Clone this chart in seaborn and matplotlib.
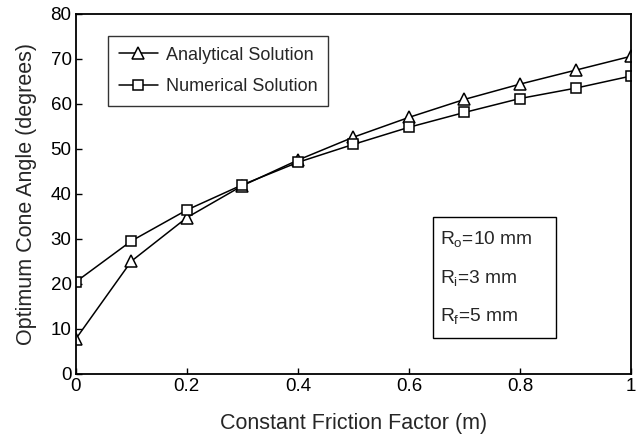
import pandas as pd
import matplotlib
matplotlib.use("Agg")
import matplotlib.pyplot as plt
from matplotlib.patches import Rectangle
import seaborn as sns

friction = [0.0, 0.1, 0.2, 0.3, 0.4, 0.5, 0.6, 0.7, 0.8, 0.9, 1.0]
analytical = [7.7, 25.0, 34.7, 41.8, 47.5, 52.6, 57.0, 61.0, 64.4, 67.5, 70.6]
numerical = [20.4, 29.5, 36.4, 42.0, 47.0, 51.0, 54.8, 58.1, 61.2, 63.5, 66.2]
xticks = [0, 0.2, 0.4, 0.6, 0.8, 1]
yticks = [0, 10, 20, 30, 40, 50, 60, 70, 80]
params = ["R$_\\mathrm{o}$=10 mm", "R$_\\mathrm{i}$=3 mm", "R$_\\mathrm{f}$=5 mm"]

sns.set_style("white")
plt.rcParams["font.family"] = ["Liberation Sans", "DejaVu Sans"]
plt.rcParams["mathtext.fontset"] = "custom"
plt.rcParams["mathtext.rm"] = "Liberation Sans"
plt.rcParams["mathtext.it"] = "Liberation Sans"

df = pd.DataFrame({"m": friction, "analytical": analytical, "numerical": numerical})

fig = plt.figure(figsize=(6.42, 4.37), dpi=100)
ax = fig.add_axes([0.118, 0.145, 0.865, 0.823])

common = dict(color="black", linewidth=1.1,
              markerfacecolor="white", markeredgecolor="black", markeredgewidth=1.1)
sns.lineplot(data=df, x="m", y="analytical", marker="^", markersize=8.5,
             label="Analytical Solution", ax=ax, **common)
sns.lineplot(data=df, x="m", y="numerical", marker="s", markersize=7,
             label="Numerical Solution", ax=ax, **common)

ax.set_xlim(0, 1)
ax.set_ylim(0, 80)
ax.set_xticks(xticks)
ax.set_xticklabels([f"{t:g}" for t in xticks])
ax.set_yticks(yticks)
ax.tick_params(direction="in", length=4, width=1, labelsize=13.5, colors="black",
               bottom=True, left=True, top=False, right=False, pad=3)
for s in ax.spines.values():
    s.set_color("black")
    s.set_linewidth(1.3)

ax.set_xlabel("Constant Friction Factor (m)", fontsize=15.5, labelpad=13)
ax.set_ylabel("Optimum Cone Angle (degrees)", fontsize=15.5, labelpad=10)

leg = ax.legend(loc="upper left", bbox_to_anchor=(0.0577, 0.939), borderaxespad=0,
                fontsize=13, frameon=True, fancybox=False, edgecolor="black",
                handlelength=2.2, borderpad=0.6, labelspacing=0.8, handletextpad=0.4)
leg.get_frame().set_linewidth(1.0)

# parameter box
ax.add_patch(Rectangle((0.643, 0.099), 0.222, 0.336, transform=ax.transAxes,
                       facecolor="white", edgecolor="black", linewidth=1.0, zorder=3))
for txt, yy in zip(params, [0.374, 0.267, 0.161]):
    ax.text(0.656, yy, txt, transform=ax.transAxes, fontsize=13.8,
            va="center", ha="left", zorder=4)

fig.savefig("out.png", dpi=100)
